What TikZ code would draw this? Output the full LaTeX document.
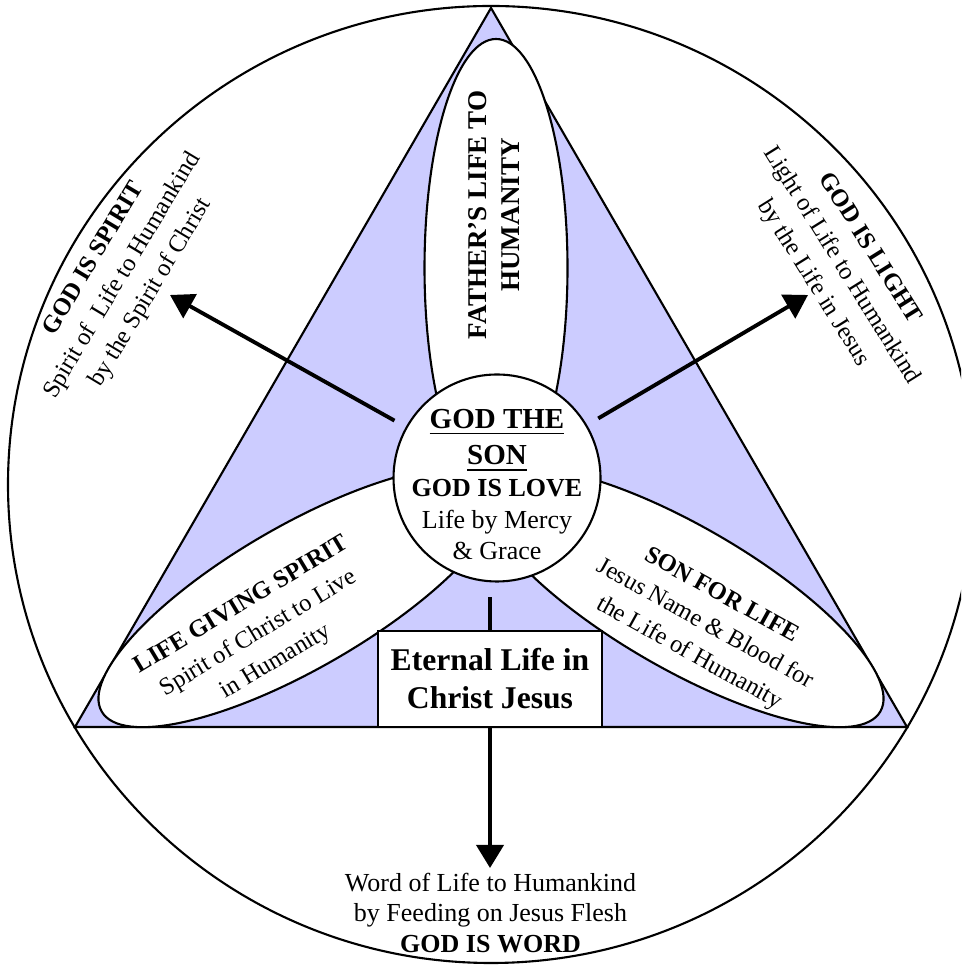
\documentclass[tikz,border=0pt]{standalone}
\usepackage{fontspec}
\setmainfont{Liberation Serif}
\usetikzlibrary{arrows.meta}
\definecolor{godhead}{RGB}{204,204,255}

\begin{document}
\begin{tikzpicture}[
    outline/.style={line width=0.6pt},
    petal/.style={draw, fill=white, line width=0.6pt},
    ray/.style={line width=1.1pt, -{Triangle[length=0.23cm,width=0.27cm]}},
    petal text/.style={align=center, inner sep=0pt, font=\fontsize{7}{9.4}\selectfont},
  ]
  \useasboundingbox (0,0) rectangle (9.61,9.65);
  \clip (0,0) rectangle (9.61,9.65);

  \draw [outline, fill=godhead]
    (4.91,9.57)
    -- (0.75,2.38)
    -- (9.07,2.38)
    -- cycle
  ;

  \draw [outline]
    (4.91,4.805) ellipse [x radius=4.83, y radius=4.785]
  ;

  \draw [petal]
    (4.96,6.97) ellipse [x radius=0.715, y radius=2.29]
  ;
  \draw [petal, rotate around={30:(3.00,3.68)}]
    (3.00,3.68) ellipse [x radius=2.29, y radius=0.715]
  ;
  \draw [petal, rotate around={-30:(6.82,3.68)}]
    (6.82,3.68) ellipse [x radius=2.29, y radius=0.715]
  ;

  \node [petal, circle, minimum size=2.07cm, inner sep=0pt, outer sep=0pt]
    (son) at (4.97,4.87) {};

  \coordinate (spirit tip) at (1.70,6.70);
  \coordinate (light tip) at (8.08,6.70);
  \coordinate (word tip) at (4.90,0.97);

  \draw [ray, shorten <=0.14cm]
    (son)
    -- (spirit tip)
  ;
  \draw [ray, shorten <=0.14cm]
    (son)
    -- (light tip)
  ;
  \draw [ray, shorten <=0.16cm]
    (son.south -| word tip)
    -- (word tip)
  ;

  \node [petal, rectangle, minimum width=2.24cm, minimum height=0.96cm,
      inner sep=0pt, align=center, font=\fontsize{9}{10.8}\selectfont\bfseries]
    (eternal) at (4.90,2.86) {Eternal Life in\\Christ Jesus};

  \node [petal text, rotate=90, font=\fontsize{7.7}{9.4}\selectfont\bfseries]
    (father) at (4.94,7.50) {FATHER'S LIFE TO\\HUMANITY};
  \node [petal text, rotate=59]
    (spirit) at (1.23,6.89)
    {\textbf{GOD IS SPIRIT}\\Spirit of~ Life to Humankind\\by the Spirit of Christ};
  \node [petal text, rotate=-58]
    (light) at (8.41,6.99)
    {\textbf{GOD IS LIGHT}\\Light of Life to Humankind\\by the Life in Jesus};
  \node [petal text, rotate=31]
    (giving) at (2.59,3.31)
    {\textbf{LIFE GIVING SPIRIT}\\Spirit of Christ to Live\\in Humanity};
  \node [petal text, rotate=-29]
    (for life) at (7.05,3.40)
    {\textbf{SON FOR LIFE}\\Jesus Name \& Blood for\\the Life of Humanity};
  \node [petal text, font=\fontsize{7.4}{9}\selectfont]
    (son text) at (4.97,4.805)
    {\fontsize{8.25}{10}\selectfont\bfseries\underline{GOD THE}\\[1.5pt]
     \fontsize{8.25}{10}\selectfont\bfseries\underline{SON}\\
     \textbf{GOD IS LOVE}\\Life by Mercy\\\& Grace};
  \node [petal text, font=\fontsize{7.4}{8.8}\selectfont]
    (word) at (4.905,0.52)
    {Word of Life to Humankind\\by Feeding on Jesus Flesh\\\textbf{GOD IS WORD}};
\end{tikzpicture}
\end{document}
